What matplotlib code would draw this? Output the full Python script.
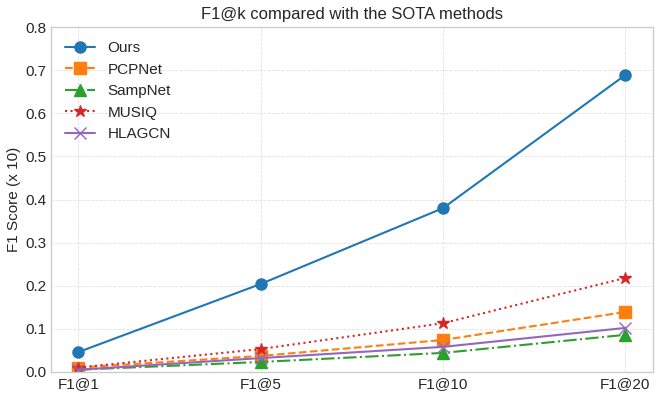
import matplotlib.pyplot as plt

plt.style.use("seaborn-v0_8-whitegrid")
plt.rcParams["font.family"] = ["Liberation Sans", "DejaVu Sans"]

categories = ["F1@1", "F1@5", "F1@10", "F1@20"]
ours = [0.046, 0.204, 0.380, 0.689]
pcpnet = [0.010, 0.037, 0.074, 0.139]
sampnet = [0.005, 0.023, 0.044, 0.086]
musiq = [0.010, 0.053, 0.113, 0.218]
hlagcn = [0.005, 0.032, 0.058, 0.102]

x = range(len(categories))

fig, ax = plt.subplots(figsize=(6.64, 3.99), dpi=100)

ax.plot(x, ours, marker="o", linestyle="-", color="#1f77b4", markersize=8, lw=1.5, label="Ours")
ax.plot(x, pcpnet, marker="s", linestyle="--", color="#ff7f0e", markersize=8, lw=1.5, label="PCPNet")
ax.plot(x, sampnet, marker="^", linestyle="-.", color="#2ca02c", markersize=8, lw=1.5, label="SampNet")
ax.plot(x, musiq, marker="*", linestyle=":", color="#d62728", markersize=9, lw=1.5, label="MUSIQ")
ax.plot(x, hlagcn, marker="x", linestyle="-", color="#9467bd", markersize=8, lw=1.5, label="HLAGCN")

ax.set_xticks(list(x))
ax.set_xticklabels(categories)
ax.set_ylim(0, 0.8)
ax.tick_params(labelsize=11)
ax.set_ylabel("F1 Score (x 10)", fontsize=11, labelpad=3)
ax.set_title("F1@k compared with the SOTA methods", fontsize=12)
ax.grid(True, linestyle="--", linewidth=0.6, alpha=0.6)
for s in ax.spines.values():
    s.set_visible(True)
    s.set_color("#cccccc")
ax.legend(loc="upper left", fontsize=11, frameon=False)

fig.subplots_adjust(left=0.077, right=0.983, top=0.932, bottom=0.068)
fig.savefig("out.png")
